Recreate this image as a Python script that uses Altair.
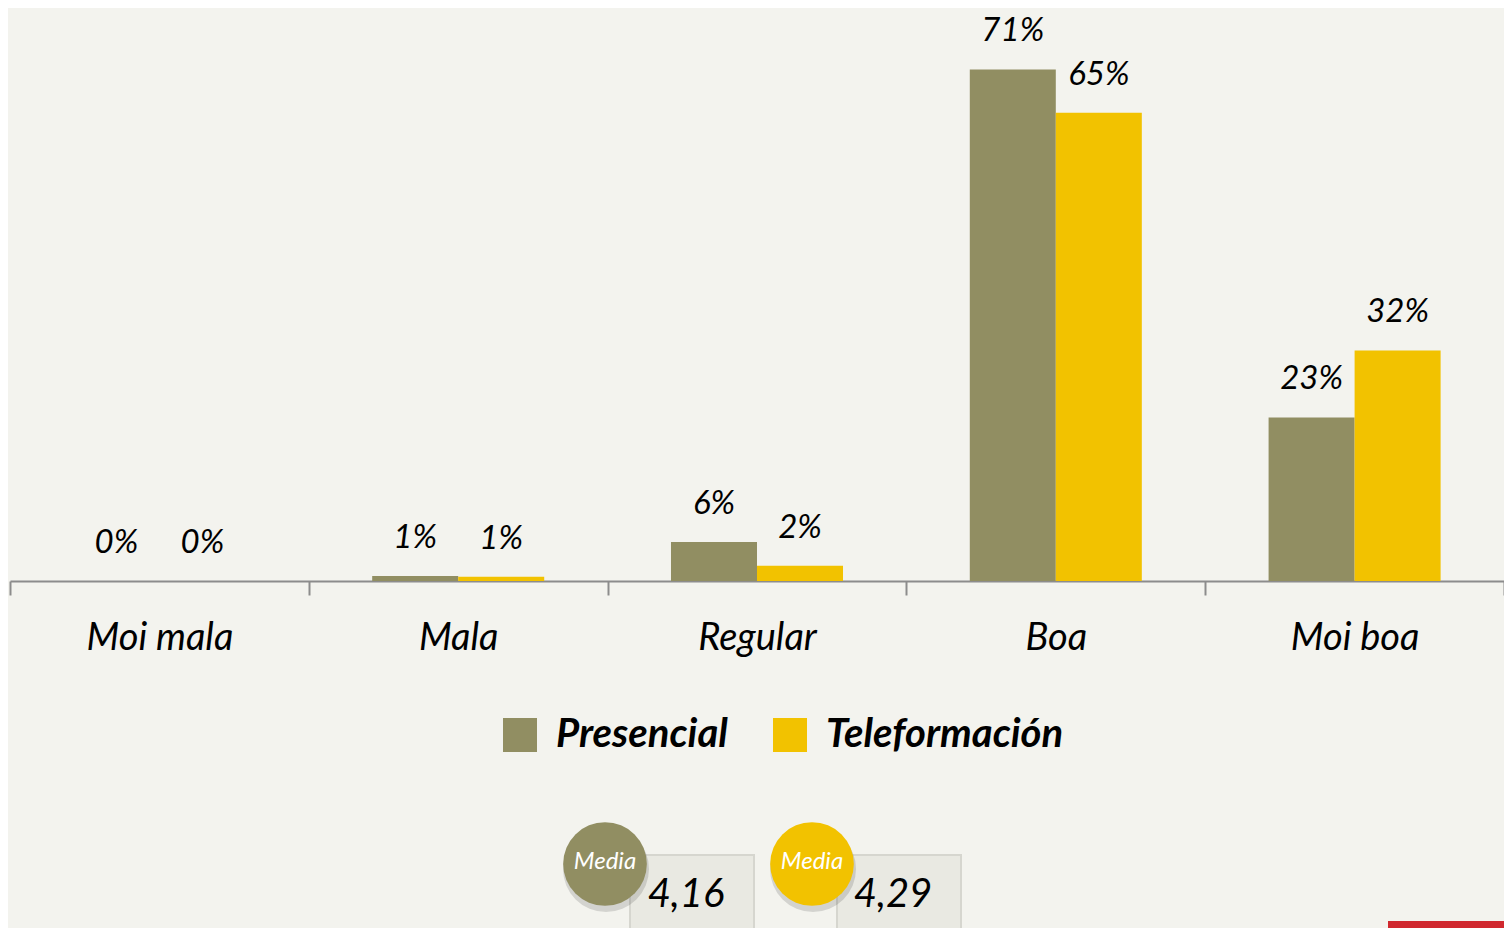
import altair as alt
import pandas as pd

# ---- data ----
categories = ["Moi mala", "Mala", "Regular", "Boa", "Moi boa"]
series = ["Presencial", "Teleformación"]
presencial = [0, 0.7, 5.4, 71, 22.7]
teleformacion = [0, 0.6, 2.1, 65, 32]
labels_presencial = ["0%", "1%", "6%", "71%", "23%"]
labels_teleformacion = ["0%", "1%", "2%", "65%", "32%"]
means = ["4,16", "4,29"]
mean_label = "Media"

colors = ["#918e62", "#f2c200"]
FONT = "Lato, Liberation Sans, sans-serif"
BG = "#f3f3ee"

rows = []
for c, v, l in zip(categories, presencial, labels_presencial):
    rows.append({"cat": c, "series": series[0], "value": v, "label": l})
for c, v, l in zip(categories, teleformacion, labels_teleformacion):
    rows.append({"cat": c, "series": series[1], "value": v, "label": l})
df = pd.DataFrame(rows)

base = alt.Chart(df).encode(
    x=alt.X(
        "cat:N",
        sort=categories,
        title=None,
        scale=alt.Scale(paddingInner=0, paddingOuter=0),
        axis=alt.Axis(
            labelAngle=0,
            labelFont=FONT,
            labelFontStyle="italic",
            labelFontSize=38,
            labelColor="#000000",
            labelPadding=24,
            domainColor="#8c8c8c",
            domainWidth=2,
            tickColor="#8c8c8c",
            tickWidth=2,
            tickSize=14,
            tickBand="extent",
            grid=False,
        ),
    ),
    xOffset=alt.XOffset(
        "series:N", sort=series, scale=alt.Scale(paddingInner=0, paddingOuter=0.737)
    ),
    y=alt.Y("value:Q", scale=alt.Scale(domain=[0, 78]), axis=None),
)

bars = base.mark_bar().encode(
    color=alt.Color(
        "series:N",
        sort=series,
        scale=alt.Scale(domain=series, range=colors),
        legend=alt.Legend(
            title=None,
            orient="none",
            legendX=490,
            legendY=696,
            direction="horizontal",
            symbolType="square",
            symbolSize=1156,
            symbolStrokeWidth=0,
            symbolOpacity=1,
            labelFont=FONT,
            labelFontSize=40,
            labelFontWeight="bold",
            labelFontStyle="italic",
            labelColor="#000000",
            labelOffset=16,
            labelLimit=500,
            columnPadding=42,
            padding=0,
        ),
    )
)

text = base.mark_text(
    dy=-38, baseline="middle", fontSize=33, font=FONT, fontStyle="italic", color="#000000"
).encode(text="label:N")

# ---- mean annotations ----
layers = []
circle_x = [595, 802]
box_x = [(620, 744), (827, 951)]
mean_x = [676, 883]
for i, s in enumerate(series):
    d = alt.Chart(pd.DataFrame({"series": [s], "mean": [means[i]], "lab": [mean_label]}))
    layers.append(
        d.mark_rect(fill="#e9e9e2", stroke="#d6d6cf", strokeWidth=2).encode(
            x=alt.value(box_x[i][0]), x2=alt.value(box_x[i][1]),
            y=alt.value(836), y2=alt.value(940),
        )
    )
    layers.append(
        d.mark_circle(size=7400, color="#000000", opacity=0.13).encode(
            x=alt.value(circle_x[i] + 1), y=alt.value(850)
        )
    )
    layers.append(
        d.mark_circle(size=7000, color=colors[i], opacity=1).encode(
            x=alt.value(circle_x[i]), y=alt.value(845)
        )
    )
    layers.append(
        d.mark_text(font=FONT, fontStyle="italic", fontSize=24, color="#ffffff",
                    baseline="middle").encode(
            x=alt.value(circle_x[i]), y=alt.value(843), text="lab:N"
        )
    )
    layers.append(
        d.mark_text(font=FONT, fontStyle="italic", fontSize=40, color="#000000",
                    baseline="middle").encode(
            x=alt.value(mean_x[i]), y=alt.value(876), text="mean:N"
        )
    )

red = alt.Chart(pd.DataFrame({"k": [1]})).mark_rect(color="#d0282e").encode(
    x=alt.value(1378), x2=alt.value(1500), y=alt.value(902), y2=alt.value(912)
)

chart = alt.layer(bars, text, *layers, red).properties(
    width=1494,
    height=562,
    autosize="none",
    padding={"left": 2, "top": 11, "right": 0, "bottom": 347},
    background=BG,
).configure_view(stroke=None)

chart.save("out.html", embed_options={"renderer": "svg", "actions": False})
